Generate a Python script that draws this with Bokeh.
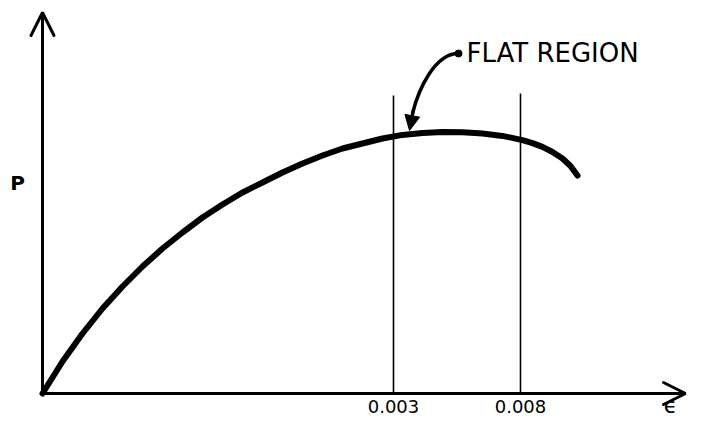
from bokeh.plotting import figure
from bokeh.models import Range1d, Arrow, OpenHead, NormalHead, ColumnDataSource
from bokeh.core.properties import value
from bokeh.embed import file_html
from bokeh.resources import INLINE

# Schematic load (P) vs strain (epsilon) curve, in drawing units
strain = [0, 20, 40, 60, 80, 100, 120, 140, 160, 180, 200, 220, 240, 260, 280, 300,
          320, 340, 360, 380, 400, 420, 440, 460, 480, 490, 500, 510, 520, 528, 535]
load = [0, 32, 60, 85, 107, 127, 145, 161, 176, 189, 201, 211, 221, 230, 238, 245,
        250, 255, 258.6, 260.6, 261.4, 261.2, 260, 257.6, 253.4, 250.4, 246.6, 241.5,
        235, 227.5, 218]

# Flat-region bounds (strain positions) and their labels
region_x = [351, 478]
region_top = [298, 300]
region_labels = ["0.003", "0.008"]

x_label = "\u03f5"
y_label = "P"
note = "FLAT REGION"

INK = "#000000"

p = figure(width=688, height=420, output_backend="svg", toolbar_location=None,
           x_range=Range1d(-42, 646), y_range=Range1d(-27, 393),
           x_axis_location=None, y_axis_location=None, min_border=0)
p.outline_line_color = None
p.background_fill_color = "white"
p.border_fill_color = "white"
p.xgrid.visible = False
p.ygrid.visible = False

# axes with open arrowheads
p.add_layout(Arrow(end=OpenHead(size=23, line_width=3, line_color=INK, line_cap="round"),
                   x_start=0, y_start=0, x_end=0, y_end=381,
                   line_width=3, line_color=INK))
p.add_layout(Arrow(end=OpenHead(size=22, line_width=3, line_color=INK, line_cap="round"),
                   x_start=0, y_start=0, x_end=643, y_end=0,
                   line_width=3, line_color=INK))

# flat region boundaries
src = ColumnDataSource(dict(x=region_x, top=region_top, base=[0, 0], lab=region_labels,
                            ly=[-13, -13]))
p.segment(x0="x", y0="base", x1="x", y1="top", source=src, line_width=1.6, line_color=INK)
p.text(x="x", y="ly", text="lab", source=src, text_align="center", text_baseline="middle",
       text_font=value("DejaVu Sans"), text_font_size="18px", text_color=INK)

# curve
p.line(strain, load, line_width=6, line_color=INK, line_cap="round", line_join="round")

# axis labels
p.text(x=[-25], y=[211], text=[y_label], text_align="center", text_baseline="middle",
       text_font=value("DejaVu Sans"), text_font_style="bold", text_font_size="20px",
       text_color=INK)
p.text(x=[628], y=[-12], text=[x_label], text_align="center", text_baseline="middle",
       text_font=value("DejaVu Sans"), text_font_size="22px", text_color=INK)

# annotation
p.text(x=[424], y=[341], text=[note], text_align="left", text_baseline="middle",
       text_font=value("DejaVu Sans"), text_font_size="26px", text_color=INK)
p.bezier(x0=[416], y0=[340], x1=[370], y1=[280], cx0=[392], cy0=[340], cx1=[376], cy1=[304],
         line_width=3.5, line_color=INK, line_cap="round")
p.scatter(x=[416], y=[340], size=7, color=INK)
p.add_layout(Arrow(end=NormalHead(size=15, fill_color=INK, line_color=INK, line_width=1),
                   x_start=371, y_start=284, x_end=367, y_end=263,
                   line_width=3, line_color=INK))

open("out.html", "w").write(file_html(p, INLINE))
